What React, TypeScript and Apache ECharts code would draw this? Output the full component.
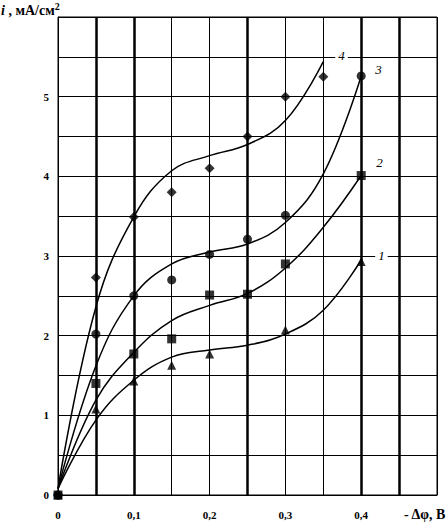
import React, { useEffect, useRef } from "react";
import * as echarts from "echarts";

// Experimental points (x = -Δφ, В ; y = i, мА/см²)
const pts1: [number, number][] = [[0, 0], [0.05, 1.08], [0.1, 1.43], [0.15, 1.63], [0.2, 1.77], [0.3, 2.07], [0.4, 2.93]];
const pts2: [number, number][] = [[0, 0], [0.05, 1.4], [0.1, 1.77], [0.15, 1.96], [0.2, 2.51], [0.25, 2.52], [0.3, 2.9], [0.4, 4.01]];
const pts3: [number, number][] = [[0, 0], [0.05, 2.02], [0.1, 2.5], [0.15, 2.7], [0.2, 3.02], [0.25, 3.21], [0.3, 3.51], [0.4, 5.26]];
const pts4: [number, number][] = [[0, 0], [0.05, 2.73], [0.1, 3.49], [0.15, 3.8], [0.2, 4.1], [0.25, 4.5], [0.3, 5.0], [0.35, 5.25]];

// Fitted curves
const curve1: [number, number][] = [[0, 0.08], [0.05, 0.94], [0.1, 1.44], [0.15, 1.73], [0.2, 1.82], [0.25, 1.88], [0.3, 2.02], [0.35, 2.32], [0.4, 2.95]];
const curve2: [number, number][] = [[0, 0.08], [0.05, 1.19], [0.1, 1.79], [0.15, 2.19], [0.2, 2.38], [0.25, 2.53], [0.3, 2.85], [0.35, 3.36], [0.4, 4.01]];
const curve3: [number, number][] = [[0, 0.08], [0.05, 1.62], [0.1, 2.5], [0.15, 2.9], [0.2, 3.05], [0.25, 3.15], [0.3, 3.42], [0.35, 4.03], [0.4, 5.26]];
const curve4: [number, number][] = [[0, 0.08], [0.05, 2.36], [0.1, 3.49], [0.15, 4.07], [0.2, 4.26], [0.25, 4.4], [0.3, 4.7], [0.35, 5.44]];

const curveNames = ["1", "2", "3", "4"];
const boldVerticals = [0.05, 0.1, 0.25, 0.4, 0.45];

const serif = "Liberation Serif";

export default function App() {
  const ref = useRef<HTMLDivElement>(null);
  useEffect(() => {
    if (!ref.current) return;
    const chart = echarts.init(ref.current, null, { renderer: "svg" });
    const lineBase = (data: [number, number][], name: string, offset: [number, number]) => ({
      type: "line",
      name: "curve" + name,
      data,
      smooth: 0.4,
      showSymbol: false,
      symbol: "none",
      itemStyle: { color: "#000" },
      lineStyle: { color: "#000", width: 1.5 },
      z: 3,
      endLabel: {
        show: true,
        formatter: name,
        distance: 0,
        offset,
        color: "#000",
        fontFamily: serif,
        fontStyle: "italic",
        fontSize: 13,
        backgroundColor: "#fff",
        padding: [0, 3],
      },
    });
    const scat = (data: [number, number][], symbol: string, size: number) => ({
      type: "scatter",
      data,
      symbol,
      symbolSize: size,
      itemStyle: { color: "#000" },
      z: 4,
    });
    chart.setOption({
      animation: false,
      backgroundColor: "#fff",
      grid: { left: 58, right: 10, top: 17, bottom: 27, show: true, borderColor: "#000", borderWidth: 1 },
      xAxis: {
        type: "value",
        min: 0,
        max: 0.5,
        interval: 0.05,
        axisLine: { show: true, lineStyle: { color: "#000", width: 1 } },
        axisTick: { show: false },
        splitLine: { show: true, lineStyle: { color: "#000", width: 1 } },
        axisLabel: {
          margin: 14,
          color: "#000",
          fontFamily: serif,
          fontWeight: "bold",
          fontSize: 11,
          formatter: (v: number) => {
            const r = Math.round(v * 100);
            if (r % 10 !== 0 || r >= 50) return "";
            return r === 0 ? "0" : "0," + r / 10;
          },
        },
      },
      yAxis: {
        type: "value",
        min: 0,
        max: 6,
        interval: 0.5,
        axisLine: { show: true, lineStyle: { color: "#000", width: 1 } },
        axisTick: { show: false },
        splitLine: { show: true, lineStyle: { color: "#000", width: 1 } },
        axisLabel: {
          margin: 9,
          color: "#000",
          fontFamily: serif,
          fontWeight: "bold",
          fontSize: 11,
          formatter: (v: number) => (Math.abs(v - Math.round(v)) < 1e-6 && v < 6 ? String(Math.round(v)) : ""),
        },
      },
      series: [
        {
          type: "line",
          data: [],
          markLine: {
            silent: true,
            symbol: "none",
            label: { show: false },
            lineStyle: { color: "#000", width: 2.5, type: "solid" },
            data: boldVerticals.map((x) => ({ xAxis: x })),
          },
        },
        lineBase(curve1, curveNames[0], [14, -4]),
        lineBase(curve2, curveNames[1], [12, -13]),
        lineBase(curve3, curveNames[2], [11, -6]),
        lineBase(curve4, curveNames[3], [12, -6]),
        scat(pts1, "triangle", 9),
        scat(pts2, "rect", 9),
        scat(pts3, "circle", 9),
        scat(pts4, "diamond", 10),
      ],
      graphic: [
        {
          type: "text",
          left: 1,
          top: 1,
          style: {
            text: "{i|i} , мА/см{sup|2}",
            fill: "#000",
            font: `bold 14px "${serif}"`,
            rich: {
              i: { fontStyle: "italic", fontWeight: "bold", fontSize: 14, fontFamily: serif, fill: "#000" },
              sup: { fontSize: 10, fontWeight: "bold", fontFamily: serif, fill: "#000", verticalAlign: "top", padding: [0, 0, 8, 0] },
            },
          },
        },
        {
          type: "text",
          right: 1,
          top: 507,
          style: {
            text: "- Δφ, В",
            fill: "#000",
            font: `bold 14px "${serif}"`,
          },
        },
      ],
    });
    return () => chart.dispose();
  }, []);
  return <div ref={ref} style={{ position: "fixed", left: 0, top: 0, width: 447, height: 522 }} />;
}
